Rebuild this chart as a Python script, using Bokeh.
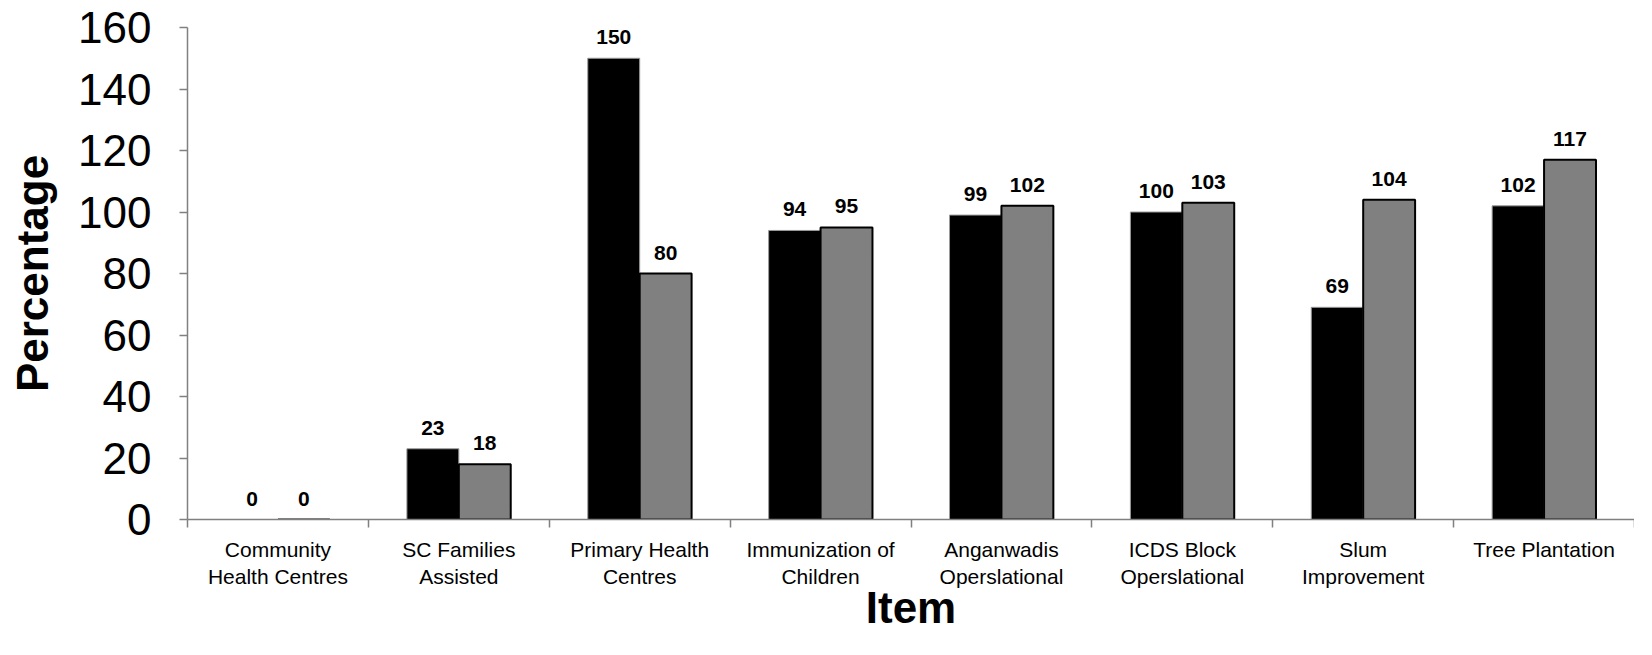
from bokeh.plotting import figure
from bokeh.models import (Range1d, LinearAxis, FixedTicker, ColumnDataSource, Grid)
from bokeh.transform import dodge
from bokeh.core.properties import value
from bokeh.embed import file_html
from bokeh.resources import INLINE

categories = ["Community\nHealth Centres", "SC Families\nAssisted", "Primary Health\nCentres",
              "Immunization of\nChildren", "Anganwadis\nOperslational", "ICDS Block\nOperslational",
              "Slum\nImprovement", "Tree Plantation"]
series_a = [0, 23, 150, 94, 99, 100, 69, 102]
series_b = [0, 18, 80, 95, 102, 103, 104, 117]
y_ticks = [0, 20, 40, 60, 80, 100, 120, 140, 160]
x_title = "Item"
y_title = "Percentage"

FONT = "Liberation Sans"
n = len(categories)
centers = [i + 0.5 for i in range(n)]

src = ColumnDataSource(dict(
    pos=centers,
    a=series_a, b=series_b,
    a_lbl=[str(v) for v in series_a],
    b_lbl=[str(v) for v in series_b],
))

p = figure(width=1634, height=639, output_backend="svg", toolbar_location=None,
           x_range=Range1d(0, n), y_range=Range1d(0, y_ticks[-1]),
           x_axis_location=None, y_axis_location=None,
           min_border_left=187, min_border_right=0, min_border_top=27, min_border_bottom=120)
p.outline_line_color = None
for r in list(p.center):
    if isinstance(r, Grid):
        r.visible = False

AX = "#808080"

# boundary ticks axis
bax = LinearAxis(ticker=FixedTicker(ticks=list(range(n + 1))),
                 axis_line_color=AX, axis_line_width=1.5, major_tick_line_color=AX,
                 major_tick_line_width=1.5, major_tick_out=8, major_tick_in=0,
                 minor_tick_line_color=None, major_label_text_font_size="0px",
                 major_label_standoff=0)
p.add_layout(bax, "below")

cax = LinearAxis(ticker=FixedTicker(ticks=centers), axis_line_color=None,
                 major_tick_line_color=None, minor_tick_line_color=None,
                 major_label_overrides={c: lab for c, lab in zip(centers, categories)},
                 major_label_text_font=FONT, major_label_text_font_size="21px",
                 major_label_text_color="black", major_label_standoff=4,
                 axis_label=x_title, axis_label_text_font=FONT,
                 axis_label_text_font_size="44px", axis_label_text_font_style="bold",
                 axis_label_text_color="black", axis_label_standoff=-8)
p.add_layout(cax, "below")

yax = LinearAxis(ticker=FixedTicker(ticks=y_ticks), axis_line_color=AX, axis_line_width=1.5,
                 major_tick_line_color=AX, major_tick_line_width=1.5, major_tick_out=8,
                 major_tick_in=0, minor_tick_line_color=None,
                 major_label_text_font=FONT, major_label_text_font_size="44px",
                 major_label_text_color="black", major_label_standoff=28,
                 axis_label=y_title, axis_label_text_font=FONT, axis_label_text_font_size="44px",
                 axis_label_text_font_style="bold", axis_label_text_color="black",
                 axis_label_standoff=18)
p.add_layout(yax, "left")

W = 0.287
p.vbar(x=dodge("pos", -W / 2), top="a", width=W, source=src,
       fill_color="black", line_color="#9a9a9a", line_width=1)
p.vbar(x=dodge("pos", W / 2), top="b", width=W, source=src,
       fill_color="#808080", line_color="black", line_width=2)

for col, lbl, off in (("a", "a_lbl", -W / 2), ("b", "b_lbl", W / 2)):
    p.text(x=dodge("pos", off), y=col, text=lbl, source=src,
           text_font=value(FONT), text_font_style="bold", text_font_size="21px",
           text_align="center", text_baseline="alphabetic", y_offset=-21, text_color="black")

open("out.html", "w").write(file_html(p, INLINE))
